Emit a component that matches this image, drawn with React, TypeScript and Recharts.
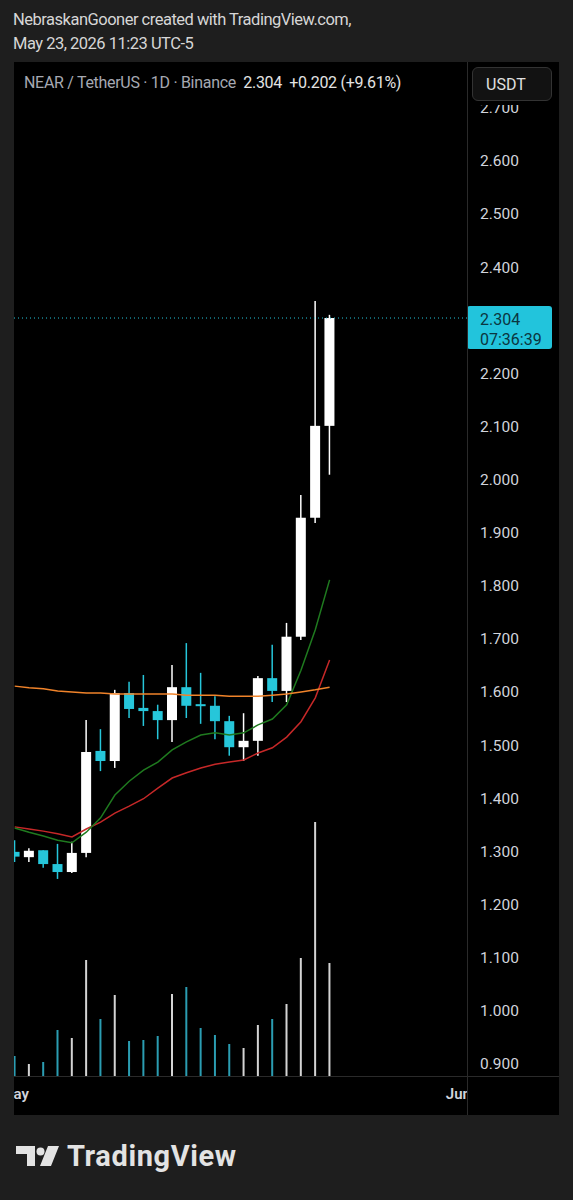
import React from 'react';
import { ComposedChart, Bar, Line, XAxis, YAxis, ReferenceLine, Cell } from 'recharts';

// NEAR/USDT daily, May 1 .. May 23 2026
const days = [
  'May 1', 'May 2', 'May 3', 'May 4', 'May 5', 'May 6', 'May 7', 'May 8', 'May 9', 'May 10', 'May 11', 'May 12',
  'May 13', 'May 14', 'May 15', 'May 16', 'May 17', 'May 18', 'May 19', 'May 20', 'May 21', 'May 22', 'May 23',
];
const opens = [1.299, 1.289, 1.302, 1.276, 1.261, 1.297, 1.489, 1.470, 1.598, 1.570, 1.564, 1.547, 1.609, 1.577, 1.574, 1.545, 1.496, 1.508, 1.626, 1.602, 1.704, 1.928, 2.101];
const highs = [1.321, 1.306, 1.302, 1.314, 1.318, 1.547, 1.530, 1.604, 1.619, 1.632, 1.576, 1.651, 1.692, 1.636, 1.592, 1.555, 1.560, 1.630, 1.689, 1.730, 1.971, 2.336, 2.310];
const lows = [1.280, 1.280, 1.269, 1.248, 1.259, 1.289, 1.451, 1.457, 1.551, 1.536, 1.511, 1.506, 1.551, 1.540, 1.511, 1.480, 1.470, 1.480, 1.581, 1.581, 1.698, 1.918, 2.009];
const closes = [1.290, 1.301, 1.276, 1.261, 1.297, 1.487, 1.470, 1.598, 1.568, 1.564, 1.547, 1.609, 1.574, 1.575, 1.545, 1.496, 1.508, 1.626, 1.602, 1.704, 1.928, 2.101, 2.304];
// volume, millions
const volumes = [2.0, 1.2, 1.4, 4.6, 3.8, 11.6, 5.7, 8.1, 3.5, 3.6, 4.0, 8.2, 8.9, 4.8, 4.1, 3.2, 2.8, 5.1, 5.7, 7.2, 11.8, 25.4, 11.3];
const emaFast = [1.344, 1.336, 1.329, 1.321, 1.316, 1.336, 1.363, 1.406, 1.432, 1.453, 1.468, 1.491, 1.506, 1.519, 1.523, 1.519, 1.523, 1.538, 1.549, 1.576, 1.641, 1.717, 1.811];
const emaSlow = [1.346, 1.342, 1.338, 1.333, 1.327, 1.342, 1.355, 1.372, 1.385, 1.399, 1.419, 1.438, 1.448, 1.457, 1.464, 1.468, 1.472, 1.485, 1.495, 1.515, 1.544, 1.589, 1.660];
const maLong = [1.611, 1.608, 1.606, 1.602, 1.600, 1.598, 1.598, 1.596, 1.596, 1.596, 1.596, 1.596, 1.594, 1.594, 1.594, 1.592, 1.592, 1.592, 1.594, 1.596, 1.600, 1.604, 1.609];

// 2.300 sits under the last-price tag, so it isn't drawn
const priceTicks = [0.9, 1.0, 1.1, 1.2, 1.3, 1.4, 1.5, 1.6, 1.7, 1.8, 1.9, 2.0, 2.1, 2.2, 2.4, 2.5, 2.6, 2.7];
const dateTicks = [0, 31];
const dateLabels = ['May', 'Jun'];

const lastPrice = 2.304;
const countdown = '07:36:39';

const UP = '#ffffff';
const DOWN = '#26c6da';
const VOL_UP = '#d4d4d4';
const VOL_DOWN = '#2b9db2';
const FONT = 'Roboto, "Noto Sans", sans-serif';

const data = days.map((day, i) => ({
  day,
  idx: i,
  open: opens[i],
  high: highs[i],
  low: lows[i],
  close: closes[i],
  volume: volumes[i],
  fast: emaFast[i],
  slow: emaSlow[i],
  long: maLong[i],
}));

function Candle(props: any) {
  const { x, y, width, height, payload } = props;
  if (x == null || y == null || !payload) return null;
  const top = Math.min(y, y + height);
  const h = Math.abs(height);
  const span = payload.high - payload.low || 1;
  const toY = (p: number) => top + ((payload.high - p) / span) * h;
  const color = payload.close >= payload.open ? UP : DOWN;
  const cx = x + width / 2;
  const bodyTop = toY(Math.max(payload.open, payload.close));
  const bodyBottom = toY(Math.min(payload.open, payload.close));
  return (
    <g>
      <line x1={cx} x2={cx} y1={top} y2={top + h} stroke={color} strokeWidth={1.5} />
      <rect x={x} y={bodyTop} width={width} height={Math.max(bodyBottom - bodyTop, 2)} fill={color} />
    </g>
  );
}

function PriceTag(props: any) {
  const vb = props.viewBox;
  if (!vb) return null;
  const x = vb.x + vb.width;
  const y = vb.y;
  return (
    <g>
      <rect x={x} y={y - 12} width={85} height={43} rx={3} fill="#22c4dc" />
      <text x={x + 13} y={y + 1} dominantBaseline="central" fontSize={16} fontFamily={FONT} fill="#0b3640">
        {lastPrice.toFixed(3)}
      </text>
      <text x={x + 13} y={y + 21} dominantBaseline="central" fontSize={16} fontFamily={FONT} fill="#0b3640">
        {countdown}
      </text>
    </g>
  );
}

function TvLogo() {
  return (
    <svg width={46} height={26} viewBox="0 0 46 26" style={{ position: 'absolute', left: 15, top: 1145 }}>
      <path d="M1 1 H20 V21 H12 V9 H1 Z" fill="#e3e3e3" />
      <circle cx={25.5} cy={6.5} r={4} fill="#e3e3e3" />
      <path d="M33 1 H44 L36 21 H25 Z" fill="#e3e3e3" />
    </svg>
  );
}

export default function App() {
  const sep = '#2a2a2a';
  return (
    <div style={{ position: 'absolute', left: 0, top: 0, width: 573, height: 1200, background: '#1e1e1e', fontFamily: FONT, overflow: 'hidden' }}>
      <div style={{ position: 'absolute', left: 13, top: 8, color: '#d6d6d6', fontSize: 16.5, letterSpacing: -0.5, lineHeight: '24px' }}>
        <div>NebraskanGooner created with TradingView.com,</div>
        <div>May 23, 2026 11:23 UTC-5</div>
      </div>

      <div style={{ position: 'absolute', left: 14, top: 62, width: 545, height: 1053, background: '#000' }}>
        <ComposedChart width={545} height={1053} data={data} margin={{ top: 0, right: 0, bottom: 0, left: 0 }}>
          <XAxis
            dataKey="idx"
            type="number"
            domain={[-0.05, 31.6]}
            allowDataOverflow
            ticks={dateTicks}
            interval={0}
            tickFormatter={(v: number) => dateLabels[dateTicks.indexOf(v)] ?? ''}
            height={39}
            axisLine={false}
            tickLine={false}
            tickSize={0}
            tickMargin={12}
            tick={{ fill: '#d1d4dc', fontSize: 15, fontWeight: 600, fontFamily: FONT }}
          />
          <XAxis xAxisId="vol" dataKey="idx" type="number" domain={[-0.05, 31.6]} allowDataOverflow hide />
          <YAxis
            orientation="right"
            domain={[0.877, 2.786]}
            allowDataOverflow
            ticks={priceTicks}
            interval={0}
            tickFormatter={(v: number) => v.toFixed(3)}
            width={92}
            axisLine={false}
            tickLine={false}
            tickSize={0}
            tickMargin={13}
            tick={{ fill: '#d1d4dc', fontSize: 15.5, fontFamily: FONT }}
          />
          <YAxis yAxisId="vol" hide domain={[0, 101.4]} />

          <Bar xAxisId="vol" yAxisId="vol" dataKey="volume" barSize={2} isAnimationActive={false}>
            {data.map((d, i) => (
              <Cell key={`v-${i}`} fill={d.close >= d.open ? VOL_UP : VOL_DOWN} />
            ))}
          </Bar>
          <Bar dataKey={(d: any) => [d.low, d.high]} barSize={10} shape={<Candle />} isAnimationActive={false} />
          <Line dataKey="slow" stroke="#c62828" strokeWidth={1.5} dot={false} activeDot={false} isAnimationActive={false} />
          <Line dataKey="fast" stroke="#1f7a1f" strokeWidth={1.5} dot={false} activeDot={false} isAnimationActive={false} />
          <Line dataKey="long" stroke="#f0832a" strokeWidth={1.5} dot={false} activeDot={false} isAnimationActive={false} />
          <ReferenceLine y={lastPrice} stroke="#26c6da" strokeDasharray="1 3" label={<PriceTag />} />
        </ComposedChart>

        {/* axis separators and covers */}
        <div style={{ position: 'absolute', left: 453, top: 0, width: 1, height: 1053, background: sep }} />
        <div style={{ position: 'absolute', left: 0, top: 1014, width: 545, height: 1, background: sep }} />
        <div style={{ position: 'absolute', left: 454, top: 1015, width: 91, height: 38, background: '#000' }} />
        <div style={{ position: 'absolute', left: 454, top: 0, width: 91, height: 43, background: '#000' }} />
        <div
          style={{
            position: 'absolute', left: 458, top: 5, width: 80, height: 34, border: '1px solid #333', borderRadius: 6,
            background: '#121212', color: '#e0e0e0', fontSize: 16, lineHeight: '34px', paddingLeft: 13, boxSizing: 'border-box',
          }}
        >
          USDT
        </div>
        <div style={{ position: 'absolute', left: 10, top: 11, fontSize: 16, letterSpacing: -0.3, whiteSpace: 'pre', color: '#a6a9b2' }}>
          NEAR / TetherUS · 1D · Binance <span style={{ color: '#e3e3e3' }}> {lastPrice.toFixed(3)}  +0.202 (+9.61%)</span>
        </div>
      </div>

      <TvLogo />
      <div style={{ position: 'absolute', left: 67, top: 1142, color: '#e3e3e3', fontSize: 29, lineHeight: '29px', fontWeight: 700, letterSpacing: 0.6 }}>
        TradingView
      </div>
    </div>
  );
}
